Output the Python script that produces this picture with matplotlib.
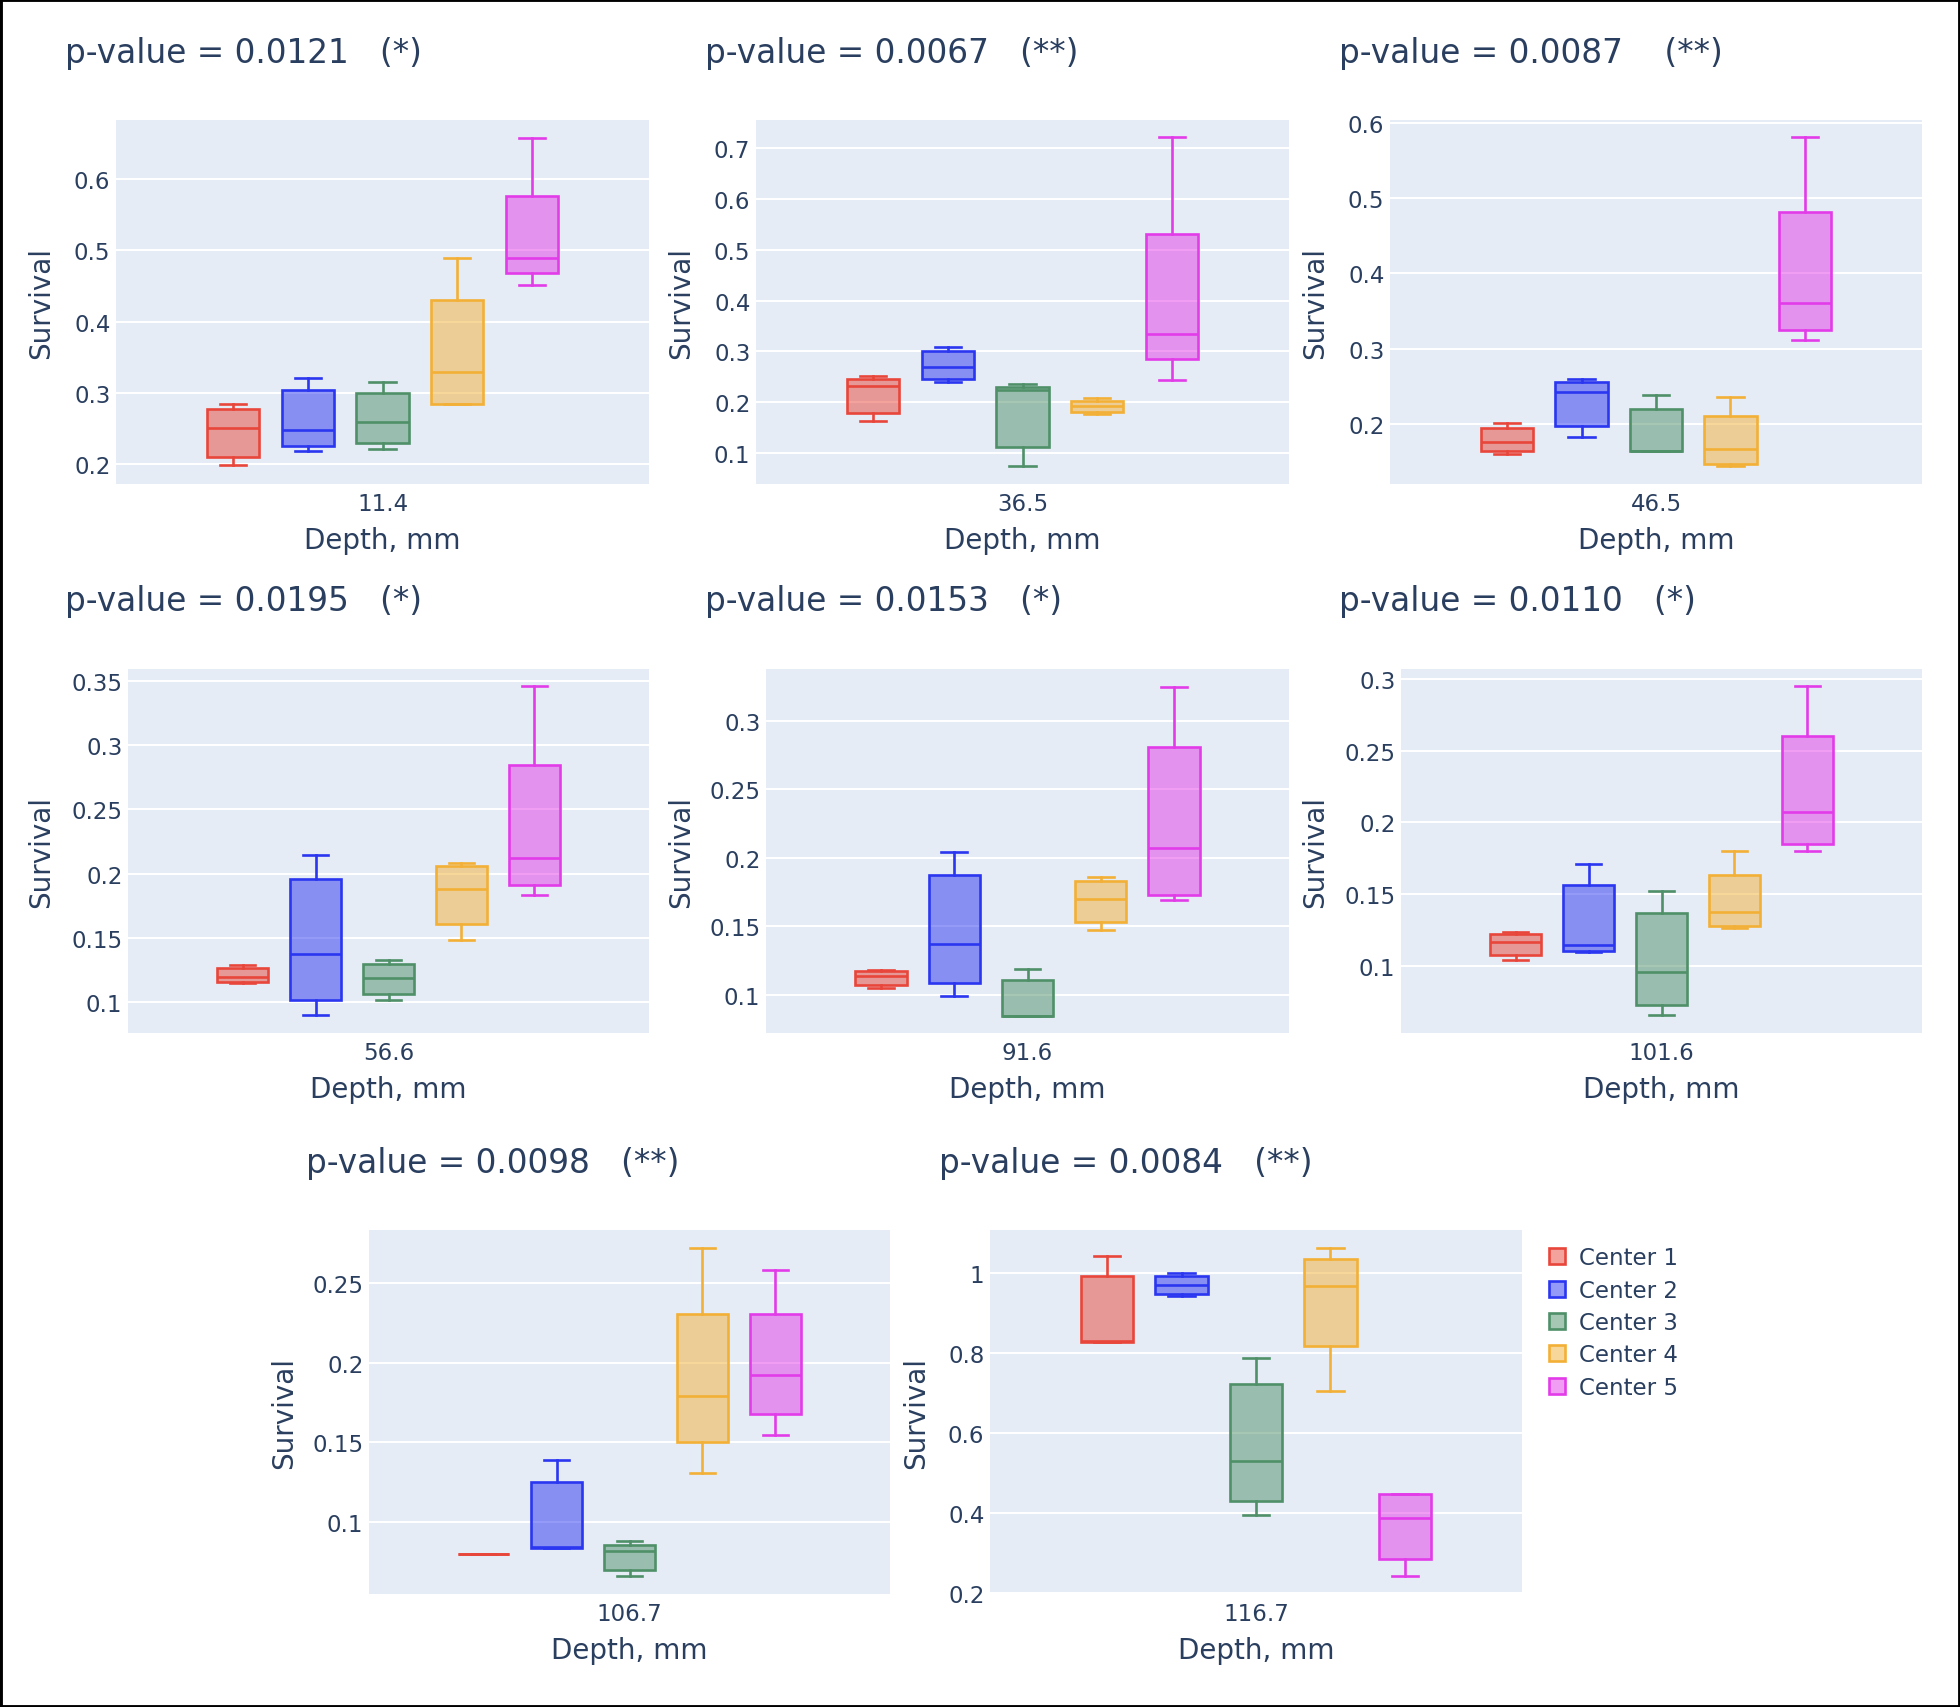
import matplotlib
matplotlib.use("Agg")
import matplotlib.pyplot as plt
from matplotlib.patches import Patch, Rectangle
from matplotlib.colors import to_rgba
from matplotlib.ticker import FuncFormatter

plt.rcParams['font.family'] = ['DejaVu Sans']

# ---------------- data ----------------
centers = ["Center 1", "Center 2", "Center 3", "Center 4", "Center 5"]
depths = ["11.4", "36.5", "46.5", "56.6", "91.6", "101.6", "106.7", "116.7"]
pvalues = ["0.0121", "0.0067", "0.0087", "0.0195", "0.0153", "0.0110", "0.0098", "0.0084"]
stars = ["*", "**", "**", "*", "*", "*", "**", "**"]

whisker_low = [
    [0.198, 0.218, 0.221, 0.285, 0.452],
    [0.163, 0.240, 0.075, 0.176, 0.244],
    [0.160, 0.183, 0.164, 0.144, 0.312],
    [0.115, 0.090, 0.102, 0.148, 0.183],
    [0.1046, 0.0988, 0.0847, 0.147, 0.169],
    [0.104, 0.1093, 0.0655, 0.1266, 0.180],
    [0.080, 0.0836, 0.0658, 0.131, 0.155],
    [0.828, 0.942, 0.396, 0.705, 0.243],
]
quartile1 = [
    [0.210, 0.225, 0.229, 0.285, 0.468],
    [0.179, 0.245, 0.112, 0.180, 0.285],
    [0.164, 0.197, 0.164, 0.146, 0.325],
    [0.116, 0.1016, 0.106, 0.161, 0.191],
    [0.107, 0.1083, 0.0847, 0.153, 0.1725],
    [0.1075, 0.1103, 0.0725, 0.1275, 0.1847],
    [0.080, 0.0836, 0.070, 0.150, 0.168],
    [0.828, 0.948, 0.430, 0.819, 0.285],
]
medians = [
    [0.250, 0.248, 0.259, 0.329, 0.489],
    [0.232, 0.270, 0.224, 0.193, 0.334],
    [0.176, 0.242, 0.164, 0.167, 0.361],
    [0.1195, 0.1375, 0.119, 0.188, 0.212],
    [0.1139, 0.137, 0.0847, 0.170, 0.207],
    [0.1163, 0.1145, 0.0953, 0.1373, 0.207],
    [0.080, 0.084, 0.082, 0.179, 0.1925],
    [0.830, 0.971, 0.530, 0.969, 0.388],
]
quartile3 = [
    [0.277, 0.304, 0.300, 0.430, 0.576],
    [0.245, 0.300, 0.231, 0.203, 0.532],
    [0.194, 0.255, 0.220, 0.210, 0.482],
    [0.1265, 0.1956, 0.1296, 0.2057, 0.2844],
    [0.117, 0.1876, 0.1107, 0.1834, 0.281],
    [0.122, 0.1566, 0.1368, 0.163, 0.2605],
    [0.080, 0.1252, 0.0857, 0.231, 0.231],
    [0.992, 0.992, 0.723, 1.035, 0.447],
]
whisker_high = [
    [0.285, 0.321, 0.3145, 0.489, 0.658],
    [0.251, 0.309, 0.235, 0.208, 0.722],
    [0.201, 0.259, 0.239, 0.236, 0.581],
    [0.129, 0.2145, 0.1325, 0.2083, 0.346],
    [0.1178, 0.2046, 0.1185, 0.186, 0.3246],
    [0.1238, 0.171, 0.152, 0.180, 0.2952],
    [0.080, 0.139, 0.0878, 0.2725, 0.2584],
    [1.044, 1.000, 0.787, 1.064, 0.447],
]

y_limits = [(0.172, 0.683), (0.039, 0.756), (0.12, 0.604), (0.076, 0.359),
            (0.072, 0.338), (0.053, 0.307), (0.0547, 0.2836), (0.198, 1.108)]
y_ticks = [
    [0.2, 0.3, 0.4, 0.5, 0.6],
    [0.1, 0.2, 0.3, 0.4, 0.5, 0.6, 0.7],
    [0.2, 0.3, 0.4, 0.5, 0.6],
    [0.1, 0.15, 0.2, 0.25, 0.3, 0.35],
    [0.1, 0.15, 0.2, 0.25, 0.3],
    [0.1, 0.15, 0.2, 0.25, 0.3],
    [0.1, 0.15, 0.2, 0.25],
    [0.2, 0.4, 0.6, 0.8, 1.0],
]

# ---------------- style / layout ----------------
colors = ["#E8463A", "#2A36F0", "#4F9068", "#F3B036", "#E23CE8"]
text_color = "#2a3f5f"
bg_color = "#E5ECF6"

W, H = 1960, 1708
# axes rectangles in pixels: x0, y0(top), x1, y1(bottom)
axes_px = [
    (116, 121, 649, 485), (756, 121, 1289, 485), (1390, 121, 1922, 485),
    (128, 670, 649, 1034), (766, 670, 1289, 1034), (1401, 670, 1922, 1034),
    (369, 1231, 890, 1595), (990, 1231, 1522, 1595),
]
title_px = [(65, 54), (705, 54), (1339, 54), (65, 601), (705, 601), (1339, 601),
            (306, 1163), (939, 1163)]
ylabel_x_px = [41, 681, 1315, 41, 681, 1315, 284, 916]
title_gap = ["   ", "   ", "    ", "   ", "   ", "   ", "   ", "   "]

slot = 0.14
box_w = 0.098
offsets = [-2 * slot, -slot, 0.0, slot, 2 * slot]

fig = plt.figure(figsize=(W / 100, H / 100), dpi=100)
fig.patch.set_facecolor("white")

fmt = FuncFormatter(lambda v, p: f"{v:g}")
lw = 1.9

for i in range(len(depths)):
    x0, y0, x1, y1 = axes_px[i]
    ax = fig.add_axes([x0 / W, 1 - y1 / H, (x1 - x0) / W, (y1 - y0) / H])
    ax.set_facecolor(bg_color)
    for s in ax.spines.values():
        s.set_visible(False)
    ax.set_xlim(-0.5, 0.5)
    ax.set_ylim(*y_limits[i])
    ax.set_yticks(y_ticks[i])
    ax.yaxis.set_major_formatter(fmt)
    ax.set_xticks([0])
    ax.set_xticklabels([depths[i]])
    ax.tick_params(axis='both', length=0, labelsize=16.5, colors=text_color)
    ax.tick_params(axis='x', pad=6)
    ax.tick_params(axis='y', pad=4)
    ax.grid(axis='y', color='white', linewidth=1.5)
    ax.set_axisbelow(True)

    for c in range(len(centers)):
        st = [dict(whislo=whisker_low[i][c], q1=quartile1[i][c], med=medians[i][c],
                   q3=quartile3[i][c], whishi=whisker_high[i][c], fliers=[])]
        col = colors[c]
        ax.bxp(st, positions=[offsets[c]], widths=[box_w], capwidths=[box_w / 2],
               patch_artist=True, showfliers=False, manage_ticks=False,
               boxprops=dict(facecolor=to_rgba(col, 0.5), edgecolor=col, linewidth=lw),
               whiskerprops=dict(color=col, linewidth=lw),
               capprops=dict(color=col, linewidth=lw),
               medianprops=dict(color=col, linewidth=lw))

    ax.set_xlabel("Depth, mm", fontsize=20, color=text_color)
    ax.xaxis.set_label_coords(0.5, -(541 - 485) / (y1 - y0))
    ax.xaxis.label.set_va('center')
    ax.set_ylabel("Survival", fontsize=20, color=text_color)
    ax.yaxis.set_label_coords((ylabel_x_px[i] - x0) / (x1 - x0), 0.5)
    ax.yaxis.label.set_va('center')

    tx, ty = title_px[i]
    fig.text(tx / W, 1 - ty / H, f"p-value = {pvalues[i]}{title_gap[i]}({stars[i]})",
             fontsize=23.6, color=text_color, ha='left', va='center')

handles = [Patch(facecolor=to_rgba(colors[c], 0.5), edgecolor=colors[c], linewidth=lw,
                 label=centers[c]) for c in range(len(centers))]
leg = fig.legend(handles=handles, loc='upper left', bbox_to_anchor=(1540 / W, 1 - 1238 / H),
                 frameon=False, fontsize=16.5, handlelength=0.7, handleheight=0.7,
                 handletextpad=0.6, labelspacing=0.41, borderaxespad=0)
for t in leg.get_texts():
    t.set_color(text_color)

fig.patches.append(Rectangle((0, 0), 1, 1, transform=fig.transFigure, fill=False,
                             edgecolor='black', linewidth=3.5))

fig.savefig("out.png", dpi=100, facecolor="white")
